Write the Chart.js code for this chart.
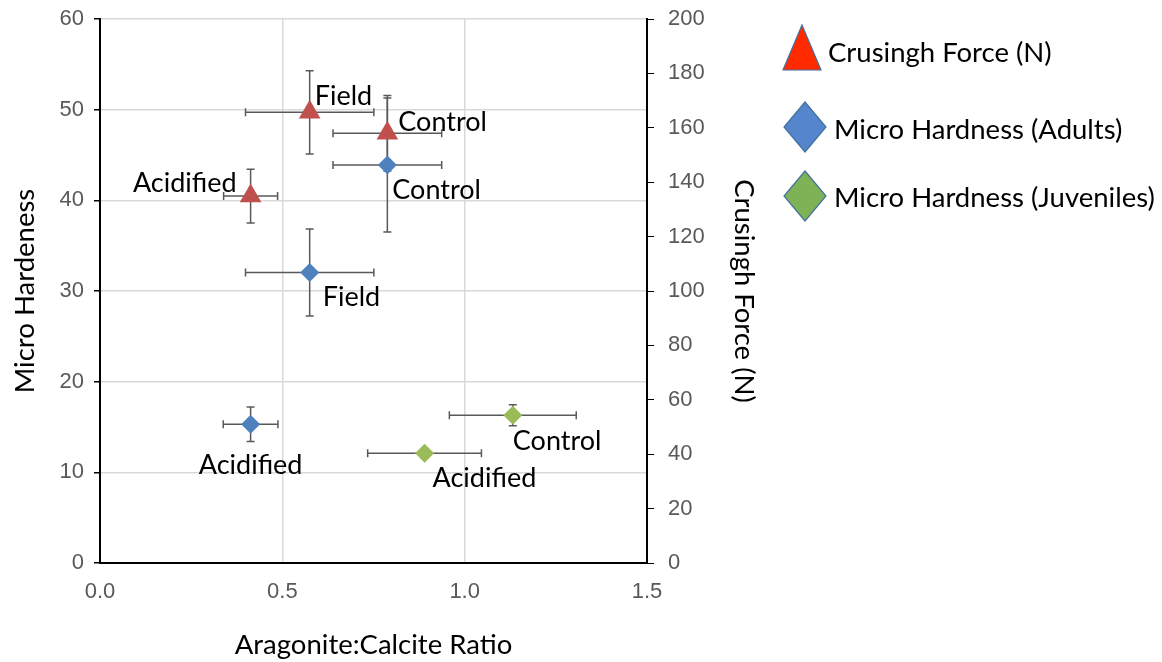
<!DOCTYPE html>
<html>
<head>
<meta charset="utf-8">
<script src="https://cdn.jsdelivr.net/npm/chart.js@4.4.1/dist/chart.umd.min.js"></script>
<style>
  html, body { margin: 0; padding: 0; background: #fff; }
  #wrap { width: 1162px; height: 662px; position: relative; }
</style>
</head>
<body>
<div id="wrap"><canvas id="chart" width="1162" height="662"></canvas></div>
<script>
// series names (legend + dataset labels)
const seriesNames = ['Crusingh Force (N)', 'Micro Hardness (Adults)', 'Micro Hardness (Juveniles)'];

// crushing force, right axis
const forceLabels = ['Field', 'Control', 'Acidified'];
const forceRatio = [0.575, 0.788, 0.413];
const forceRatioErr = [0.176, 0.149, 0.074];
const forceN = [165.7, 158.0, 134.9];
const forceErr = [15.3, 13.9, 9.9];

// micro hardness of adults, left axis
const adultLabels = ['Field', 'Control', 'Acidified'];
const adultRatio = [0.575, 0.788, 0.413];
const adultRatioErr = [0.176, 0.149, 0.075];
const adultHardness = [32.05, 43.9, 15.3];
const adultErr = [4.8, 7.4, 1.9];

// micro hardness of juveniles, left axis
const juvLabels = ['Control', 'Acidified'];
const juvRatio = [1.132, 0.890];
const juvRatioErr = [0.174, 0.156];
const juvHardness = [16.3, 12.1];
const juvErr = [1.16, 0.5];

// axis ranges / ticks
const xTicks = [0, 0.5, 1.0, 1.5];
const leftMax = 60, leftStep = 10;
const rightMax = 200, rightStep = 20;

const labelFont = '27px Lato, "DejaVu Sans", sans-serif';
const legendFont = '27.5px Lato, "DejaVu Sans", sans-serif';
const tickFont = { family: '"Liberation Sans", Arial, sans-serif', size: 22 };
const titleFont = { family: 'Lato, sans-serif', size: 27.5 };

function toPoints(xs, ys) {
  return xs.map((x, i) => ({ x: x, y: ys[i] }));
}

// fixed axis box sizes; drop the label overhang so the plot area stays put
function fixBox(size) {
  return (s) => {
    if (s.isHorizontal()) s.height = size; else s.width = size;
    s.paddingTop = 0; s.paddingBottom = 0;
    s.paddingLeft = 0; s.paddingRight = 0;
  };
}

// pixel nudges for the point labels, per dataset
const labelOffsets = [
  [{ dx: 5, dy: -16, align: 'left' }, { dx: 11, dy: -11, align: 'left' }, { dx: -14, dy: -13, align: 'right' }],
  [{ dx: 13, dy: 25, align: 'left' }, { dx: 5, dy: 25, align: 'left' }, { dx: 0, dy: 41, align: 'center' }],
  [{ dx: 0, dy: 26, align: 'left' }, { dx: 8, dy: 25, align: 'left' }]
];

const datasets = [
  {
    label: seriesNames[0],
    data: toPoints(forceRatio, forceN),
    xErr: forceRatioErr, yErr: forceErr, names: forceLabels,
    yAxisID: 'y2',
    pointStyle: 'triangle', pointRadius: 12.5,
    backgroundColor: '#c0504d', borderColor: '#c0504d', borderWidth: 0,
    legendFill: '#ff2a00'
  },
  {
    label: seriesNames[1],
    data: toPoints(adultRatio, adultHardness),
    xErr: adultRatioErr, yErr: adultErr, names: adultLabels,
    yAxisID: 'y',
    pointStyle: 'rectRot', pointRadius: 9.5,
    backgroundColor: '#4f81bd', borderColor: '#4f81bd', borderWidth: 0,
    legendFill: '#5585cc'
  },
  {
    label: seriesNames[2],
    data: toPoints(juvRatio, juvHardness),
    xErr: juvRatioErr, yErr: juvErr, names: juvLabels,
    yAxisID: 'y',
    pointStyle: 'rectRot', pointRadius: 9.5,
    backgroundColor: '#9bbb59', borderColor: '#9bbb59', borderWidth: 0,
    legendFill: '#7fb257'
  }
];

// error bars in both directions, under the markers
const errorBars = {
  id: 'errorBars',
  beforeDatasetsDraw(chart) {
    const ctx = chart.ctx;
    const xs = chart.scales.x;
    ctx.save();
    ctx.strokeStyle = '#595959';
    ctx.lineWidth = 1.5;
    chart.data.datasets.forEach((ds) => {
      const ys = chart.scales[ds.yAxisID];
      ds.data.forEach((p, i) => {
        const px = xs.getPixelForValue(p.x);
        const py = ys.getPixelForValue(p.y);
        const x0 = xs.getPixelForValue(p.x - ds.xErr[i]);
        const x1 = xs.getPixelForValue(p.x + ds.xErr[i]);
        const y0 = ys.getPixelForValue(p.y - ds.yErr[i]);
        const y1 = ys.getPixelForValue(p.y + ds.yErr[i]);
        const cap = 4;
        ctx.beginPath();
        ctx.moveTo(x0, py); ctx.lineTo(x1, py);
        ctx.moveTo(x0, py - cap); ctx.lineTo(x0, py + cap);
        ctx.moveTo(x1, py - cap); ctx.lineTo(x1, py + cap);
        ctx.moveTo(px, y0); ctx.lineTo(px, y1);
        ctx.moveTo(px - cap, y0); ctx.lineTo(px + cap, y0);
        ctx.moveTo(px - cap, y1); ctx.lineTo(px + cap, y1);
        ctx.stroke();
      });
    });
    ctx.restore();
  }
};

// treatment names next to each point
const pointLabels = {
  id: 'pointLabels',
  afterDatasetsDraw(chart) {
    const ctx = chart.ctx;
    ctx.save();
    ctx.font = labelFont;
    ctx.fillStyle = '#000';
    ctx.textBaseline = 'middle';
    chart.data.datasets.forEach((ds, di) => {
      const meta = chart.getDatasetMeta(di);
      meta.data.forEach((el, i) => {
        const off = labelOffsets[di][i];
        ctx.textAlign = off.align;
        ctx.fillText(ds.names[i], el.x + off.dx, el.y + off.dy);
      });
    });
    ctx.restore();
  }
};

// big legend markers on the right
const sideLegend = {
  id: 'sideLegend',
  afterDraw(chart) {
    const ctx = chart.ctx;
    const rows = [
      { cx: 802, cy: 48, tx: 828, ty: 53 },
      { cx: 805, cy: 127, tx: 834, ty: 130 },
      { cx: 805, cy: 196, tx: 834, ty: 198 }
    ];
    ctx.save();
    ctx.lineWidth = 1.2;
    ctx.strokeStyle = '#41719c';
    chart.data.datasets.forEach((ds, i) => {
      const r = rows[i];
      ctx.beginPath();
      if (ds.pointStyle === 'triangle') {
        ctx.moveTo(r.cx, r.cy - 23);
        ctx.lineTo(r.cx + 19, r.cy + 22);
        ctx.lineTo(r.cx - 19, r.cy + 22);
      } else {
        ctx.moveTo(r.cx, r.cy - 25);
        ctx.lineTo(r.cx + 21, r.cy);
        ctx.lineTo(r.cx, r.cy + 25);
        ctx.lineTo(r.cx - 21, r.cy);
      }
      ctx.closePath();
      ctx.fillStyle = ds.legendFill;
      ctx.fill();
      ctx.stroke();
      ctx.fillStyle = '#000';
      ctx.font = legendFont;
      ctx.textAlign = 'left';
      ctx.textBaseline = 'middle';
      ctx.fillText(ds.label, r.tx, r.ty);
    });
    ctx.restore();
  }
};

new Chart(document.getElementById('chart'), {
  type: 'scatter',
  data: { datasets: datasets },
  plugins: [errorBars, pointLabels, sideLegend],
  options: {
    responsive: false,
    animation: false,
    layout: { padding: { left: 0, right: 400, top: 19, bottom: 0 } },
    plugins: {
      legend: { display: false },
      tooltip: { enabled: false }
    },
    scales: {
      x: {
        type: 'linear', min: 0, max: 1.5,
        afterBuildTicks: (s) => { s.ticks = xTicks.map((v) => ({ value: v })); },
        afterFit: fixBox(99),
        ticks: { font: tickFont, color: '#595959', padding: 10, callback: (v) => Number(v).toFixed(1) },
        grid: { color: '#d9d9d9', lineWidth: 1.5, tickLength: 6, tickColor: 'rgba(0,0,0,0)' },
        border: { color: '#000', width: 2 },
        title: { display: true, text: 'Aragonite:Calcite Ratio', font: titleFont, color: '#000', padding: { top: 0, bottom: 0 } }
      },
      y: {
        position: 'left', min: 0, max: leftMax,
        afterFit: fixBox(100),
        ticks: { stepSize: leftStep, font: tickFont, color: '#595959', padding: 10 },
        grid: { color: '#d9d9d9', lineWidth: 1.5, tickLength: 6, tickColor: '#000' },
        border: { color: '#000', width: 2 },
        title: { display: true, text: 'Micro Hardeness', font: titleFont, color: '#000', padding: { top: 9, bottom: 0 } }
      },
      y2: {
        position: 'right', min: 0, max: rightMax,
        afterFit: fixBox(115),
        ticks: { stepSize: rightStep, font: tickFont, color: '#595959', padding: 14 },
        grid: { drawOnChartArea: false, tickLength: 7, tickColor: '#000' },
        border: { color: '#000', width: 2 },
        title: { display: true, text: 'Crusingh Force (N)', font: titleFont, color: '#000', padding: { top: 2, bottom: 0 } }
      }
    }
  }
});
</script>
</body>
</html>
